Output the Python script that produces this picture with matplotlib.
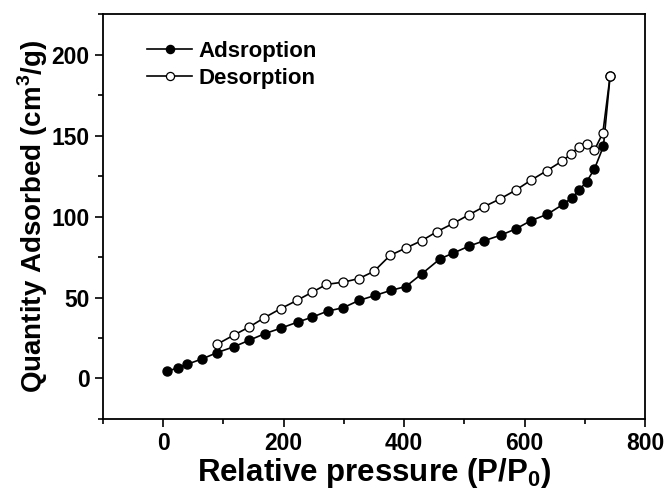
import matplotlib
matplotlib.use('Agg')
import matplotlib.pyplot as plt
from matplotlib.ticker import MultipleLocator

plt.rcParams['font.family'] = 'Liberation Sans'
plt.rcParams['font.weight'] = 'bold'
plt.rcParams['mathtext.fontset'] = 'custom'
plt.rcParams['mathtext.rm'] = 'Liberation Sans:bold'
plt.rcParams['mathtext.bf'] = 'Liberation Sans:bold'

# Adsorption branch
ads_x = [7, 24, 39, 65, 90, 117, 143, 169, 195, 224, 247, 273, 299, 325, 352,
         378, 403, 430, 460, 482, 508, 533, 561, 586, 610, 638, 664, 679, 690,
         703, 716, 731, 742]
ads_y = [4.3, 6.6, 8.6, 12.1, 16.0, 19.5, 23.6, 27.7, 31.0, 34.9, 37.8, 41.6,
         43.7, 48.2, 51.3, 54.4, 56.8, 64.8, 74.0, 77.5, 81.8, 85.1, 88.6, 92.5,
         97.4, 101.5, 107.6, 111.7, 116.2, 121.6, 129.4, 143.5, 186.7]

# Desorption branch
des_x = [90, 117, 143, 168, 195, 222, 247, 271, 299, 325, 350, 377, 403, 429,
         455, 482, 507, 533, 559, 586, 611, 637, 663, 677, 690, 703, 716, 730, 742]
des_y = [21.2, 26.7, 31.8, 37.5, 43.1, 48.2, 53.2, 58.1, 59.5, 61.7, 66.2, 76.1,
         80.6, 85.1, 90.8, 95.9, 101.0, 106.2, 110.9, 116.5, 122.6, 128.4, 134.5,
         138.6, 143.1, 144.8, 141.1, 151.7, 186.7]

fig = plt.figure(figsize=(6.67, 4.98), dpi=100)
ax = fig.add_axes([0.1544, 0.159, 0.8126, 0.812])

ax.plot(ads_x, ads_y, '-o', color='black', lw=1.2, ms=6.5,
        mfc='black', mec='black', label='Adsroption')
ax.plot(des_x, des_y, '-o', color='black', lw=1.2, ms=6.5,
        mfc='white', mec='black', mew=0.9, label='Desorption')

ax.set_xlim(-100, 800)
ax.set_ylim(-25, 225)
ax.xaxis.set_major_locator(MultipleLocator(200))
ax.xaxis.set_minor_locator(MultipleLocator(100))
ax.yaxis.set_major_locator(MultipleLocator(50))
ax.yaxis.set_minor_locator(MultipleLocator(25))
ax.tick_params(which='major', direction='out', length=6, width=1.2,
               labelsize=16.5, top=False, right=False)
ax.tick_params(which='minor', direction='out', length=3.5, width=1.2,
               top=False, right=False)
for s in ax.spines.values():
    s.set_linewidth(1.3)

ax.set_xlabel(r'Relative pressure (P/P$_{0}$)', fontsize=22.5, fontweight='bold',
              labelpad=1)
ax.set_ylabel(r'Quantity Adsorbed (cm$^{3}$/g)', fontsize=20, fontweight='bold',
              labelpad=1)

ax.legend(loc='upper left', bbox_to_anchor=(0.045, 0.985), frameon=False,
          fontsize=16, handlelength=2.0, handletextpad=0.3, labelspacing=0.3,
          markerscale=0.9)

fig.savefig('out.png', dpi=100)
